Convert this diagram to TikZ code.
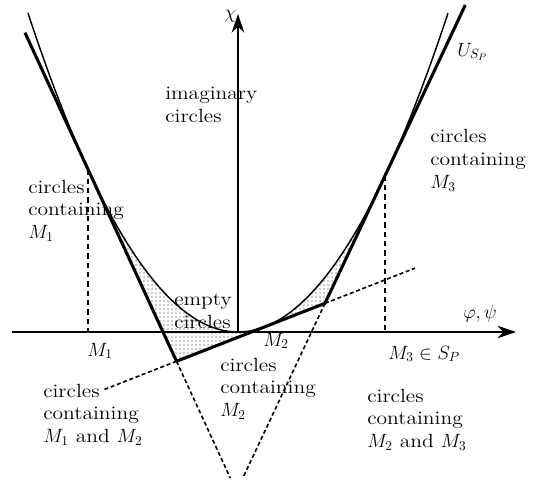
\documentclass[tikz,border=0pt]{standalone}
\usepackage{fontspec}
\setmainfont{lmroman12-regular.otf}[FakeStretch=1.13]
\usetikzlibrary{arrows.meta,patterns.meta}
\begin{document}
\begin{tikzpicture}[x=0.75pt,y=-0.75pt,
  txt/.style={inner sep=0pt,font=\fontsize{14.3}{17}\selectfont},
  block/.style={txt,anchor=north west,align=left},
  single/.style={txt,anchor=base west},
  axis/.style={line width=1.5pt,-{Stealth[length=14pt,width=9.5pt]}},
  curve/.style={line width=1.1pt},
  poly/.style={line width=2.3pt,line join=round},
  ext/.style={line width=1.2pt,dash pattern=on 3pt off 2pt},
  guide/.style={line width=1.1pt,dash pattern=on 4pt off 3pt},
  shade/.style={pattern={Dots[distance=3pt,radius=0.5pt]},pattern color=black!85}]
\useasboundingbox (0,0) rectangle (533,489);
% key points
\coordinate (O) at (238,332);
\coordinate (xs) at (12,332);
\coordinate (xe) at (516,332);
\coordinate (ye) at (238,14);
\coordinate (P1) at (88,169.33);
\coordinate (P3) at (385,175.77);
\coordinate (A1) at (88,332);
\coordinate (A3) at (385,332);
\coordinate (T1) at (25,32.68);
\coordinate (T3) at (465.3,5);
\coordinate (V12) at (176.5,361.28);
\coordinate (V23) at (325,303.30);
\coordinate (B1) at (230.3,478);
\coordinate (B3) at (242.8,478);
\coordinate (E2l) at (103,389.98);
\coordinate (E2r) at (415,268.17);
% shaded region
\fill[shade] plot[domain=88:385,samples=100] (\x,{332-72.3*((\x-238)/100)^2}) -- (V23) -- (V12) -- cycle;
% guides
\draw[guide] (P1) -- (A1);
\draw[guide] (P3) -- (A3);
% axes
\draw[axis] (xs) -- (xe);
\draw[axis] (O) -- (ye);
% parabola
\draw[curve] plot[domain=28:448,samples=150] (\x,{332-72.3*((\x-238)/100)^2});
% polyline
\draw[poly] (T1) -- (V12) -- (V23) -- (T3);
% extensions
\draw[ext] (V12) -- (B1);
\draw[ext] (V23) -- (B3);
\draw[ext] (V12) -- (E2l);
\draw[ext] (V23) -- (E2r);
% labels
\node[single] (chi) at (224,18) {$\chi$};
\node[single] (phipsi) at (463,318) {$\varphi,\psi$};
\node[single] (U) at (457,56) {$U_{S_P}$};
\node[single] (m1) at (87,356) {$M_1$};
\node[single] (m2) at (263,346) {$M_2$};
\node[single] (m3) at (388,359) {$M_3\in S_P$};
\node[block] (imag) at (165,87) {imaginary\\circles};
\node[block] (cM1) at (28,179.5) {circles\\containing\\$M_1$};
\node[block] (cM3) at (430,129.5) {circles\\containing\\$M_3$};
\node[block] (empty) at (174,294) {empty\\circles};
\node[block] (cM12) at (43,383.5) {circles\\containing\\$M_1$ and $M_2$};
\node[block] (cM2) at (220,357.5) {circles\\containing\\$M_2$};
\node[block] (cM23) at (367,388.5) {circles\\containing\\$M_2$ and $M_3$};
\end{tikzpicture}
\end{document}
